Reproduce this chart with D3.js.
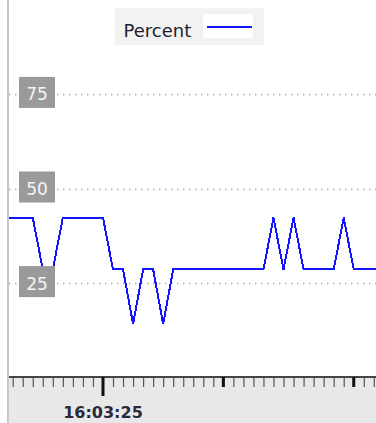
<!DOCTYPE html>
<html>
<head>
<meta charset="utf-8">
<script src="https://cdn.jsdelivr.net/npm/d3@7"></script>
<style>
html,body{margin:0;padding:0;background:#fff;overflow:hidden;}
svg{display:block;font-family:"DejaVu Sans",sans-serif;}
</style>
</head>
<body>
<svg id="chart" width="376" height="423"></svg>
<script>
// ---- data ----
const seriesName = "Percent";
// seconds relative to 16:03:25
const seconds = [-10,-9,-8,-7,-6,-5,-4,-3,-2,-1,0,1,2,3,4,5,6,7,8,9,10,11,12,13,14,15,16,17,18,19,20,21,22,23,24,25,26,27,28];
const percent = [42.3,42.3,42.3,42.3,28.6,28.6,42.3,42.3,42.3,42.3,42.3,28.6,28.6,14.2,28.6,28.6,14.2,28.6,28.6,28.6,28.6,28.6,28.6,28.6,28.6,28.6,28.6,42.3,28.6,42.3,28.6,28.6,28.6,28.6,42.3,28.6,28.6,28.6,28.6];
const yTicks = [25, 50, 75];
const xLabelTimes = ["16:03:25"];
const xBoldTickSeconds = [12, 25];

const base = new Date(2000, 0, 1, 16, 3, 25);
const toDate = s => new Date(base.getTime() + s * 1000);
const data = seconds.map((s, i) => ({t: toDate(s), v: percent[i]}));

const svg = d3.select("#chart");
const W = 376, H = 423;
const left = 9, axisY = 377;

const x = d3.scaleTime()
  .domain([toDate(-9.37), toDate(27.22)])
  .range([left, W]);
const y = d3.scaleLinear().domain([0, 100]).range([377.7, -0.7]);

// bottom band
svg.append("rect").attr("x", left).attr("y", axisY).attr("width", W - left).attr("height", H - axisY).attr("fill", "#e8e8e8");

// left border
svg.append("line").attr("x1", 8).attr("x2", 8).attr("y1", 0).attr("y2", H)
  .attr("stroke", "#c8c8c8").attr("stroke-width", 2);

// gridlines
const plot = svg.append("g");
plot.selectAll("line.grid").data(yTicks).join("line")
  .attr("class", "grid")
  .attr("x1", left).attr("x2", W)
  .attr("y1", d => Math.round(y(d)) + 0.5).attr("y2", d => Math.round(y(d)) + 0.5)
  .attr("stroke", "#b0b0b0").attr("stroke-width", 1.5).attr("stroke-dasharray", "1.5,4.5");

// clip
svg.append("clipPath").attr("id", "clip").append("rect")
  .attr("x", left).attr("y", 0).attr("width", W - left).attr("height", axisY);

// line
const line = d3.line().x(d => x(d.t)).y(d => y(d.v));
svg.append("path").datum(data)
  .attr("clip-path", "url(#clip)")
  .attr("d", line)
  .attr("fill", "none")
  .attr("stroke", "#1414ff")
  .attr("stroke-width", 2)
  .attr("shape-rendering", "crispEdges");

// y labels (boxes)
const yl = svg.append("g").selectAll("g").data(yTicks).join("g")
  .attr("transform", d => `translate(0,${y(d)})`);
yl.append("rect").attr("x", 19).attr("y", -17).attr("width", 36).attr("height", 31).attr("fill", "#9a9a9a");
yl.append("text").attr("x", 37).attr("y", 6.5).attr("text-anchor", "middle")
  .attr("font-size", 17).attr("fill", "#f4f4f4").text(d => d);

// x axis with D3
const xAxisG = svg.append("g").attr("transform", `translate(0,${axisY})`);
const minorTicks = d3.range(-9, 28).map(toDate);
const xAxis = d3.axisBottom(x).tickValues(minorTicks).tickSize(10).tickFormat("");
xAxisG.call(xAxis);
xAxisG.select(".domain").remove();
xAxisG.selectAll(".tick line").attr("stroke", "#555").attr("stroke-width", 1.2);
// axis base line
svg.append("line").attr("x1", left).attr("x2", W).attr("y1", axisY).attr("y2", axisY)
  .attr("stroke", "#444").attr("stroke-width", 2);

// bold short ticks
svg.append("g").selectAll("line").data(xBoldTickSeconds).join("line")
  .attr("x1", d => x(toDate(d))).attr("x2", d => x(toDate(d)))
  .attr("y1", axisY).attr("y2", axisY + 10)
  .attr("stroke", "#111").attr("stroke-width", 3);

// labelled major tick
const fmt = d3.timeFormat("%H:%M:%S");
const parse = d3.timeParse("%H:%M:%S");
const labelDates = xLabelTimes.map(s => { const p = parse(s); return new Date(2000,0,1,p.getHours(),p.getMinutes(),p.getSeconds()); });
const lab = svg.append("g").selectAll("g").data(labelDates).join("g")
  .attr("transform", d => `translate(${x(d)},0)`);
lab.append("line").attr("x1", 0).attr("x2", 0).attr("y1", axisY).attr("y2", axisY + 19)
  .attr("stroke", "#111").attr("stroke-width", 3);
lab.append("text").attr("x", 0).attr("y", 418).attr("text-anchor", "middle")
  .attr("font-size", 16).attr("font-weight", "bold").attr("fill", "#2a2a3a")
  .text(d => fmt(d));

// legend
const lg = svg.append("g");
lg.append("rect").attr("x", 115).attr("y", 8).attr("width", 149).attr("height", 37).attr("fill", "#f2f2f2");
lg.append("text").attr("x", 123.5).attr("y", 36.5).attr("font-size", 18).attr("fill", "#1e1e2e").text(seriesName);
lg.append("rect").attr("x", 203).attr("y", 14).attr("width", 50).attr("height", 24).attr("fill", "#fff");
lg.append("line").attr("x1", 207).attr("x2", 252).attr("y1", 27).attr("y2", 27)
  .attr("stroke", "#1414ff").attr("stroke-width", 2);
</script>
</body>
</html>
